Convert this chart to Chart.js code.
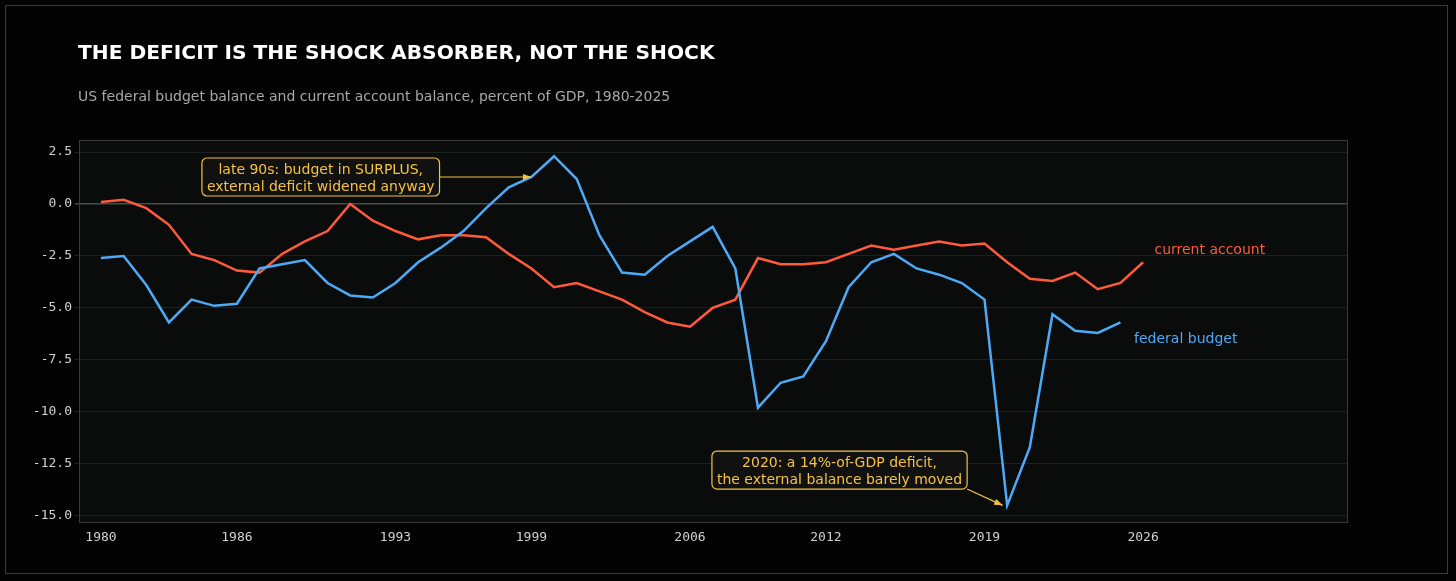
<!DOCTYPE html>
<html>
<head>
<meta charset="utf-8">
<script src="https://cdn.jsdelivr.net/npm/chart.js@4"></script>
<style>
  html, body { margin: 0; padding: 0; background: #030303; }
  #wrap { position: relative; width: 1456px; height: 581px; }
  #frame { position: absolute; left: 5px; top: 5px; width: 1443px; height: 569px; border: 1px solid #3a3a3a; box-sizing: border-box; }
  canvas { position: absolute; left: 0; top: 0; }
</style>
</head>
<body>
<div id="wrap">
  <div id="frame"></div>
  <canvas id="chart" width="1456" height="581"></canvas>
</div>
<script>
// data
const years = [1980,1981,1982,1983,1984,1985,1986,1987,1988,1989,1990,1991,1992,1993,1994,1995,1996,1997,1998,1999,
  2000,2001,2002,2003,2004,2005,2006,2007,2008,2009,2010,2011,2012,2013,2014,2015,2016,2017,2018,2019,
  2020,2021,2022,2023,2024,2025,2026]
const federalBudget = [-2.6,-2.5,-3.9,-5.7,-4.6,-4.9,-4.8,-3.1,-2.9,-2.7,-3.8,-4.4,-4.5,-3.8,-2.8,-2.1,-1.3,-0.2,0.8,1.3,
  2.3,1.2,-1.5,-3.3,-3.4,-2.5,-1.8,-1.1,-3.1,-9.8,-8.6,-8.3,-6.6,-4.0,-2.8,-2.4,-3.1,-3.4,-3.8,-4.6,
  -14.5,-11.7,-5.3,-6.1,-6.2,-5.7,null]
const currentAccount = [0.1,0.2,-0.2,-1.0,-2.4,-2.7,-3.2,-3.3,-2.4,-1.8,-1.3,0.0,-0.8,-1.3,-1.7,-1.5,-1.5,-1.6,-2.4,-3.1,
  -4.0,-3.8,-4.2,-4.6,-5.2,-5.7,-5.9,-5.0,-4.6,-2.6,-2.9,-2.9,-2.8,-2.4,-2.0,-2.2,-2.0,-1.8,-2.0,-1.9,
  -2.8,-3.6,-3.7,-3.3,-4.1,-3.8,-2.8]
const xTicks = [1980,1986,1993,1999,2006,2012,2019,2026]
const yTicks = [2.5,0,-2.5,-5,-7.5,-10,-12.5,-15]

const RED = '#ff5a3c'
const BLUE = '#4daaf7'
const GOLD = '#f5c242'

const pts = arr => years.map((y, i) => ({ x: y, y: arr[i] })).filter(p => p.y !== null)

const notes = [
  { lines: ['late 90s: budget in SURPLUS,', 'external deficit widened anyway'], bx: 1989.7, by: 1.3, ax: 1999, ay: 1.3 },
  { lines: ['2020: a 14%-of-GDP deficit,', 'the external balance barely moved'], bx: 2012.6, by: -12.8, ax: 2019.8, ay: -14.5 }
]

const decor = {
  id: 'decor',
  beforeDraw(chart) {
    const { ctx, chartArea: a } = chart
    ctx.save()
    ctx.fillStyle = '#0a0b0b'
    ctx.fillRect(a.left, a.top, a.right - a.left, a.bottom - a.top)
    ctx.restore()
  },
  afterDraw(chart) {
    const { ctx, chartArea: a, scales: { x, y } } = chart
    ctx.save()
    ctx.strokeStyle = '#3a3a3a'
    ctx.lineWidth = 1
    ctx.strokeRect(a.left + 0.5, a.top + 0.5, a.right - a.left, a.bottom - a.top)

    ctx.textBaseline = 'alphabetic'
    ctx.fillStyle = '#ffffff'
    ctx.font = 'bold 20.2px "DejaVu Sans"'
    ctx.fillText('THE DEFICIT IS THE SHOCK ABSORBER, NOT THE SHOCK', 78, 59)
    ctx.fillStyle = '#a8a8a8'
    ctx.font = '14px "DejaVu Sans"'
    ctx.fillText('US federal budget balance and current account balance, percent of GDP, 1980-2025', 78, 101)

    ctx.font = '14px "DejaVu Sans"'
    ctx.fillStyle = RED
    ctx.fillText('current account', x.getPixelForValue(2026.5), y.getPixelForValue(-2.4))
    ctx.fillStyle = BLUE
    ctx.fillText('federal budget', x.getPixelForValue(2025.6), y.getPixelForValue(-6.7))

    ctx.font = '14px "DejaVu Sans"'
    notes.forEach(n => {
      const cx = x.getPixelForValue(n.bx), cy = y.getPixelForValue(n.by)
      const w = Math.max(...n.lines.map(l => ctx.measureText(l).width)) + 10
      const h = 38
      const px = x.getPixelForValue(n.ax), py = y.getPixelForValue(n.ay)
      // arrow starts at the box edge facing the target
      const startX = px > cx ? cx + w / 2 : cx - w / 2
      const startY = py - cy > h / 2 ? cy + h / 2 : cy
      ctx.strokeStyle = GOLD
      ctx.lineWidth = 1.2
      ctx.beginPath()
      ctx.moveTo(startX, startY)
      ctx.lineTo(px, py)
      ctx.stroke()
      const ang = Math.atan2(py - startY, px - startX)
      ctx.fillStyle = GOLD
      ctx.beginPath()
      ctx.moveTo(px, py)
      ctx.lineTo(px - 9 * Math.cos(ang - 0.35), py - 9 * Math.sin(ang - 0.35))
      ctx.lineTo(px - 9 * Math.cos(ang + 0.35), py - 9 * Math.sin(ang + 0.35))
      ctx.closePath()
      ctx.fill()
      // box
      ctx.fillStyle = '#111'
      ctx.beginPath()
      ctx.roundRect(cx - w / 2, cy - h / 2, w, h, 5)
      ctx.fill()
      ctx.stroke()
      ctx.fillStyle = GOLD
      ctx.textAlign = 'center'
      ctx.fillText(n.lines[0], cx, cy - 3)
      ctx.fillText(n.lines[1], cx, cy + 14)
      ctx.textAlign = 'left'
    })
    ctx.restore()
  }
}

new Chart(document.getElementById('chart'), {
  type: 'line',
  data: {
    datasets: [
      { label: 'federal budget', data: pts(federalBudget), borderColor: BLUE, borderWidth: 2.5, pointRadius: 0, tension: 0 },
      { label: 'current account', data: pts(currentAccount), borderColor: RED, borderWidth: 2.5, pointRadius: 0, tension: 0 }
    ]
  },
  options: {
    responsive: false,
    animation: false,
    layout: { padding: { left: 0, right: 109, top: 140, bottom: 0 } },
    plugins: { legend: { display: false }, tooltip: { enabled: false } },
    scales: {
      x: {
        type: 'linear', min: 1979.03, max: 2035,
        afterBuildTicks: s => { s.ticks = xTicks.map(v => ({ value: v })) },
        afterFit: s => { s.height = 59 },
        grid: { display: false },
        border: { display: false },
        ticks: { padding: 0, color: '#d0d0d0', font: { family: 'DejaVu Sans Mono', size: 13 }, callback: v => String(v) }
      },
      y: {
        min: -15.3, max: 3.08,
        afterBuildTicks: s => { s.ticks = yTicks.map(v => ({ value: v })) },
        afterFit: s => { s.width = 79 },
        border: { display: false },
        grid: { color: c => c.tick && c.tick.value === 0 ? '#4a4a4a' : '#1c211f', lineWidth: c => c.tick && c.tick.value === 0 ? 1.5 : 1, drawTicks: true, tickLength: 4 },
        ticks: { color: '#d0d0d0', font: { family: 'DejaVu Sans Mono', size: 13 }, callback: v => v.toFixed(1) }
      }
    }
  },
  plugins: [decor]
})
</script>
</body>
</html>
